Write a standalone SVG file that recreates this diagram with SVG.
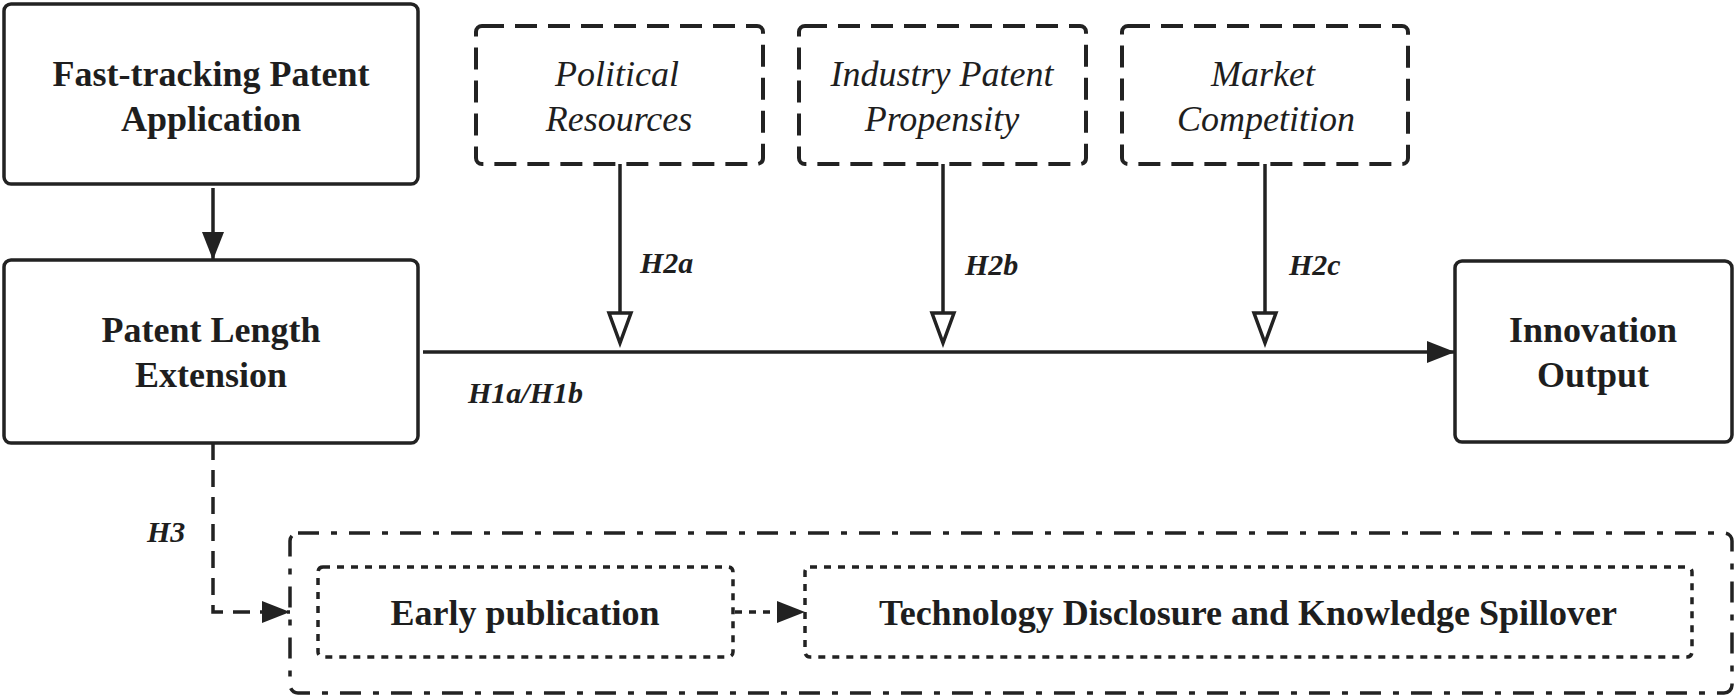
<svg xmlns="http://www.w3.org/2000/svg" width="1735" height="698" viewBox="0 0 1735 698">
<style>
.box{fill:#fff;stroke:#222;stroke-width:3.5}
.dash{fill:#fff;stroke:#222;stroke-width:4;stroke-dasharray:22 11}
.dot{fill:none;stroke:#222;stroke-width:3.5;stroke-dasharray:7 7}
.dashdot{fill:none;stroke:#222;stroke-width:3.5;stroke-dasharray:21 12 6 12}
.b{font-family:"Liberation Serif","Times New Roman",serif;font-weight:bold;font-size:36px;fill:#1e1e1e;text-anchor:middle}
.i{font-family:"Liberation Serif","Times New Roman",serif;font-style:italic;font-size:36px;fill:#1e1e1e;text-anchor:middle}
.lbl{font-family:"Liberation Serif","Times New Roman",serif;font-style:italic;font-weight:bold;font-size:30px;fill:#1e1e1e}
.ln{fill:none;stroke:#222;stroke-width:3.5}
</style>
<defs>
<marker id="fill" markerUnits="userSpaceOnUse" markerWidth="30" markerHeight="24" refX="28" refY="11" orient="auto" overflow="visible">
<path d="M0,0 L28,11 L0,22 z" fill="#222"/>
</marker>
<marker id="open" markerUnits="userSpaceOnUse" markerWidth="36" markerHeight="26" refX="31" refY="11" orient="auto" overflow="visible">
<path d="M1,0 L31,11 L1,22 z" fill="#fff" stroke="#222" stroke-width="3.5" stroke-linejoin="miter"/>
</marker>
</defs>

<g id="fast-tracking">
<rect class="box" x="4" y="4" width="414" height="180" rx="7"/>
<text class="b" x="211" y="86">Fast-tracking Patent</text>
<text class="b" x="211" y="131">Application</text>
</g>

<g id="patent-length">
<rect class="box" x="4" y="260" width="414" height="183" rx="7"/>
<text class="b" x="211" y="342">Patent Length</text>
<text class="b" x="211" y="387">Extension</text>
</g>

<g id="political">
<rect class="dash" x="476" y="26" width="287" height="138" rx="6"/>
<text class="i" x="617" y="86">Political</text>
<text class="i" x="619" y="131">Resources</text>
</g>

<g id="industry">
<rect class="dash" x="799" y="26" width="287" height="138" rx="6"/>
<text class="i" x="942" y="86">Industry Patent</text>
<text class="i" x="942" y="131">Propensity</text>
</g>

<g id="market">
<rect class="dash" x="1122" y="26" width="286" height="138" rx="6"/>
<text class="i" x="1263" y="86">Market</text>
<text class="i" x="1266" y="131">Competition</text>
</g>

<g id="innovation">
<rect class="box" x="1455" y="261" width="277" height="181" rx="7"/>
<text class="b" x="1593" y="342">Innovation</text>
<text class="b" x="1593" y="387">Output</text>
</g>

<g id="spillover-group">
<rect class="dashdot" x="290" y="533" width="1442" height="160" rx="8"/>
</g>

<g id="early">
<rect class="dot" x="318" y="567" width="415" height="90" rx="5"/>
<text class="b" x="525" y="625">Early publication</text>
</g>

<g id="disclosure">
<rect class="dot" x="805" y="567" width="887" height="90" rx="5"/>
<text class="b" x="1248" y="625">Technology Disclosure and Knowledge Spillover</text>
</g>

<g id="connectors">
<path class="ln" d="M213,188 V260" marker-end="url(#fill)"/>
<path class="ln" d="M423,352 H1455" marker-end="url(#fill)"/>
<path class="ln" d="M620,164 V343" marker-end="url(#open)"/>
<path class="ln" d="M943,164 V343" marker-end="url(#open)"/>
<path class="ln" d="M1265,164 V343" marker-end="url(#open)"/>
<path class="ln" d="M213,443 V612 H290" stroke-dasharray="17 10" marker-end="url(#fill)"/>
<path class="ln" d="M735,612 H805" stroke-dasharray="7 7" marker-end="url(#fill)"/>
<text class="lbl" x="640" y="273">H2a</text>
<text class="lbl" x="965" y="275">H2b</text>
<text class="lbl" x="1289" y="275">H2c</text>
<text class="lbl" x="468" y="403">H1a/H1b</text>
<text class="lbl" x="147" y="542">H3</text>
</g>
</svg>
